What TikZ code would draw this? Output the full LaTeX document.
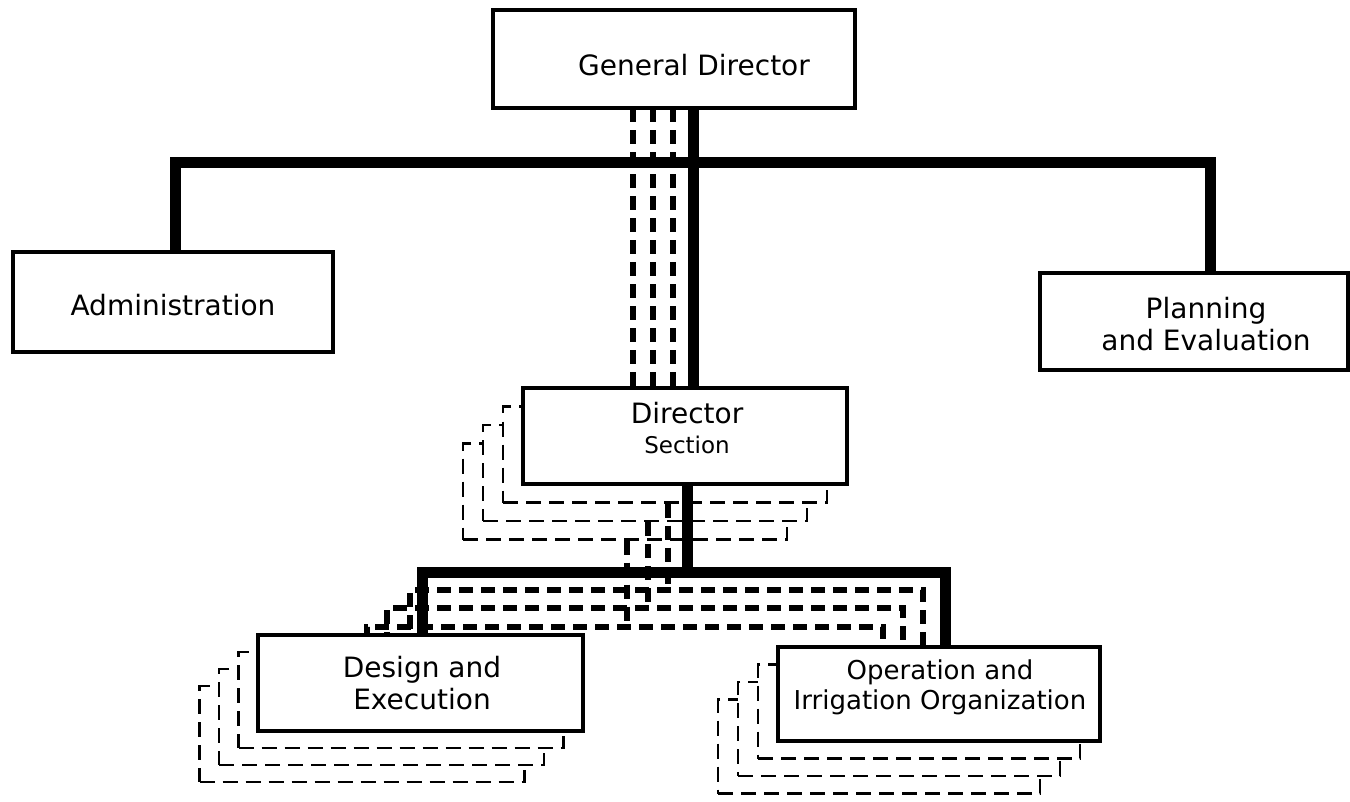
\documentclass[tikz,border=0pt]{standalone}
\usepackage{fontspec}
\setmainfont{DejaVu Sans}
\begin{document}
\begin{tikzpicture}[x=1pt,y=-1pt,
  box/.style={draw=black, line width=3.2pt, fill=white, rectangle, inner sep=0pt},
  backbox/.style={draw=black, line width=2.2pt, fill=white, rectangle, inner sep=0pt, dash pattern=on 15pt off 8pt},
  bus/.style={draw=black, line width=11pt, line join=miter},
  dbus/.style={draw=black, line width=6.5pt, dash pattern=on 14pt off 8pt},
  lbl/.style={font=\fontsize{28}{32}\selectfont, inner sep=0pt, align=center},
  slbl/.style={font=\fontsize{26}{30}\selectfont, inner sep=0pt, align=center},
  tlbl/.style={font=\fontsize{23}{27}\selectfont, inner sep=0pt, align=center}]
\useasboundingbox (0,0) rectangle (1350,802);

% ---- back (stacked) boxes ----
\foreach \k in {3,2,1} {
  \node[backbox, minimum width=324pt, minimum height=96pt] (dir\k) at (685-20*\k, 436+18.5*\k) {};
}
\foreach \k in {3,2,1} {
  \node[backbox, minimum width=325pt, minimum height=96pt] (des\k) at (420.5-19.5*\k, 683+17*\k) {};
}
\foreach \k in {3,2,1} {
  \node[backbox, minimum width=322pt, minimum height=94pt] (ope\k) at (939-20*\k, 694+17.5*\k) {};
}

% ---- reference coordinates for connectors ----
\coordinate (bary) at (0,163);
\coordinate (busy) at (0,572);
\coordinate (xa) at (175,0);
\coordinate (xp) at (1210,0);
\coordinate (xg) at (693,0);
\coordinate (xd) at (687,0);
\coordinate (xl) at (422,0);
\coordinate (xr) at (945,0);
\coordinate (t1) at (633,0);
\coordinate (t2) at (653,0);
\coordinate (t3) at (673,0);
\coordinate (m1) at (668,0);
\coordinate (m2) at (648,0);
\coordinate (m3) at (627,0);
\coordinate (h1) at (0,590);
\coordinate (h2) at (0,608);
\coordinate (h3) at (0,627);
\coordinate (l1) at (410,0);
\coordinate (l2) at (387,0);
\coordinate (l3) at (367,0);
\coordinate (r1) at (923,0);
\coordinate (r2) at (903,0);
\coordinate (r3) at (883,0);

% ---- front box positions (anchors) ----
\path (674,59) coordinate (GDc) (173,302) coordinate (ADMc) (1194,321.5) coordinate (PLAc)
      (685,436) coordinate (DIRc) (420.5,683) coordinate (DESc) (939,694) coordinate (OPEc);
\node[minimum width=362pt, minimum height=98pt, inner sep=0pt] (GD) at (GDc) {};
\node[minimum width=320pt, minimum height=100pt, inner sep=0pt] (ADM) at (ADMc) {};
\node[minimum width=308pt, minimum height=97pt, inner sep=0pt] (PLA) at (PLAc) {};
\node[minimum width=324pt, minimum height=96pt, inner sep=0pt] (DIR) at (DIRc) {};
\node[minimum width=325pt, minimum height=96pt, inner sep=0pt] (DES) at (DESc) {};
\node[minimum width=322pt, minimum height=94pt, inner sep=0pt] (OPE) at (OPEc) {};

% ---- connectors ----
\draw[dbus] (t1 |- GD.south) -- (t1 |- DIR.north);
\draw[dbus] (t2 |- GD.south) -- (t2 |- DIR.north);
\draw[dbus] (t3 |- GD.south) -- (t3 |- DIR.north);
\draw[bus] (xg |- GD.south) -- (xg |- DIR.north);
\draw[bus] (xa |- ADM.north) -- (xa |- bary) -- (xp |- bary) -- (xp |- PLA.north);

\draw[dbus] (m1 |- dir1.south) -- (m1 |- h1);
\draw[dbus] (m2 |- dir2.south) -- (m2 |- h2);
\draw[dbus] (m3 |- dir3.south) -- (m3 |- h3);
\draw[dbus] (l1 |- des1.north) -- (l1 |- h1) -- (r1 |- h1) -- (r1 |- ope1.north);
\draw[dbus] (l2 |- des2.north) -- (l2 |- h2) -- (r2 |- h2) -- (r2 |- ope2.north);
\draw[dbus] (l3 |- des3.north) -- (l3 |- h3) -- (r3 |- h3) -- (r3 |- ope3.north);
\draw[bus] (xd |- DIR.south) -- (xd |- busy);
\draw[bus] (xl |- DES.north) -- (xl |- busy) -- (xr |- busy) -- (xr |- OPE.north);

% ---- front boxes ----
\node[box, minimum width=362pt, minimum height=98pt] (GDb) at (GDc) {};
\node[box, minimum width=320pt, minimum height=100pt] (ADMb) at (ADMc) {};
\node[box, minimum width=308pt, minimum height=97pt] (PLAb) at (PLAc) {};
\node[box, minimum width=324pt, minimum height=96pt] (DIRb) at (DIRc) {};
\node[box, minimum width=325pt, minimum height=96pt] (DESb) at (DESc) {};
\node[box, minimum width=322pt, minimum height=94pt] (OPEb) at (OPEc) {};

% ---- labels ----
\node[lbl] (tGD) at (694,65) {General Director};
\node[lbl] (tADM) at (173,305) {Administration};
\node[lbl] (tPLA) at (1206,324) {Planning\\and Evaluation};
\node[lbl] (tDIR) at (687,413) {Director};
\node[tlbl] (tSEC) at (687,445) {Section};
\node[lbl] (tDES) at (422,683) {Design and\\Execution};
\node[slbl] (tOPE) at (940,687) {Operation and\\Irrigation Organization};
\end{tikzpicture}
\end{document}
